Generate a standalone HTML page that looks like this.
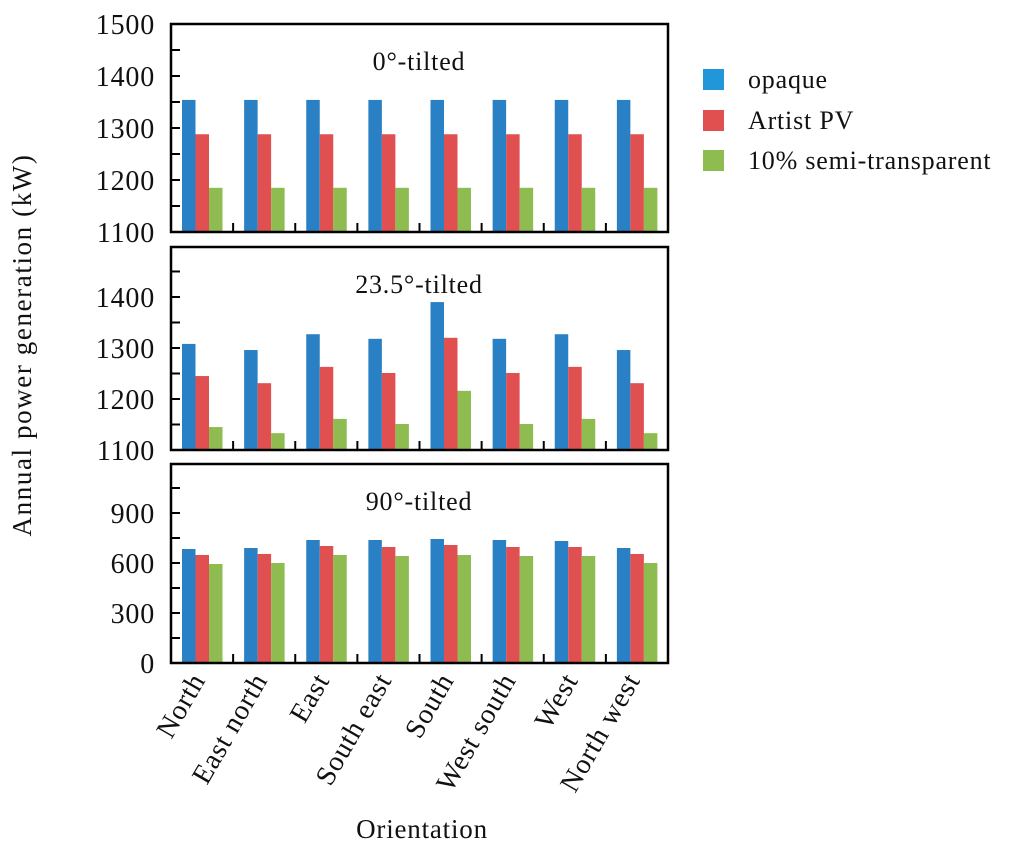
<!DOCTYPE html>
<html><head><meta charset="utf-8"><style>
body{margin:0;background:#fff}
svg text{font-family:"Liberation Serif",serif;fill:#111;letter-spacing:0.8px}
</style></head><body>
<svg id="chart" width="1024" height="850" viewBox="0 0 1024 850" xmlns="http://www.w3.org/2000/svg">
<text x="0" y="0" font-size="27" text-anchor="middle" style="letter-spacing:1.6px" transform="translate(31,345) rotate(-90)">Annual power generation (kW)</text>
<text x="422" y="838" font-size="27" text-anchor="middle">Orientation</text>
<g>
<rect x="703" y="69" width="21" height="21" fill="#2196d8"/>
<text x="748" y="88" font-size="26">opaque</text>
<rect x="703" y="110" width="21" height="21" fill="#e05050"/>
<text x="748" y="129" font-size="26">Artist PV</text>
<rect x="703" y="150" width="21" height="21" fill="#8fbc50"/>
<text x="748" y="169" font-size="26">10% semi-transparent</text>
</g>
</svg>
<script>
const categories = ["North","East north","East","South east","South","West south","West","North west"];
const panelTitles = ["0°-tilted","23.5°-tilted","90°-tilted"];
const opaque0 = [1354,1354,1354,1354,1354,1354,1354,1354];
const artist0 = [1288,1288,1288,1288,1288,1288,1288,1288];
const semi0 = [1185,1185,1185,1185,1185,1185,1185,1185];
const opaque23 = [1308,1296,1327,1318,1390,1318,1327,1296];
const artist23 = [1245,1231,1263,1251,1320,1251,1263,1231];
const semi23 = [1145,1133,1161,1151,1216,1151,1161,1133];
const opaque90 = [684,690,738,738,744,738,732,690];
const artist90 = [648,654,702,696,708,696,696,654];
const semi90 = [594,600,648,642,648,642,642,600];
const ticks0 = [1100,1200,1300,1400,1500];
const ticks23 = [1100,1200,1300,1400];
const ticks90 = [0,300,600,900];

const svg = document.getElementById('chart');
const NS = 'http://www.w3.org/2000/svg';
const X0 = 171, X1 = 668;
const colors = ['#2a80c4','#e05050','#8fbc50'];
const seriesNames = ['opaque','artist-pv','semi-transparent'];
const panels = [
  {top:24,bottom:232,min:1100,max:1500,minor:50,series:[opaque0,artist0,semi0],ticks:ticks0},
  {top:247,bottom:450,min:1100,max:1498,minor:50,series:[opaque23,artist23,semi23],ticks:ticks23},
  {top:464,bottom:663,min:0,max:1194,minor:150,series:[opaque90,artist90,semi90],ticks:ticks90}
];
function mk(tag, attrs){const e=document.createElementNS(NS,tag);for(const k in attrs)e.setAttribute(k,attrs[k]);svg.appendChild(e);return e;}
const gw = (X1-X0)/categories.length;
const xBand = i => X0 + i*gw;
panels.forEach((p,pi)=>{
  const y = v => p.bottom - (v-p.min)/(p.max-p.min)*(p.bottom-p.top);
  p.series.forEach((s,si)=>{
    s.forEach((v,i)=>{
      const r = mk('rect',{x:xBand(i)+11+si*13.5,y:y(v),width:13.5,height:p.bottom-y(v),fill:colors[si]});
      
      
    });
  });
  const f = mk('rect',{x:X0,y:p.top,width:X1-X0,height:p.bottom-p.top,fill:'none',stroke:'#000','stroke-width':2.5});
  
  
  for(let v=p.min; v<p.max; v+=p.minor){
    if(v===p.min) continue;
    const t = mk('line',{x1:X0,x2:X0+9,y1:y(v),y2:y(v),stroke:'#000','stroke-width':2});
    
    
  }
  for(let i=1;i<categories.length;i++){
    const t = mk('line',{x1:xBand(i),x2:xBand(i),y1:p.bottom,y2:p.bottom-9,stroke:'#000','stroke-width':2});
    
    
  }
  p.ticks.forEach(v=>{
    const t = mk('text',{x:155,y:y(v)+10,'font-size':28,'text-anchor':'end'});
    t.textContent = v;
    
    
  });
  const tt = mk('text',{x:419,y:p.top+46,'font-size':26,'text-anchor':'middle'});
  tt.textContent = panelTitles[pi];
  
  
});
categories.forEach((c,i)=>{
  const cx = xBand(i)+gw/2+4, cy = 680;
  const t = mk('text',{x:0,y:0,'font-size':28,'text-anchor':'end',transform:`translate(${cx},${cy}) rotate(-60)`});
  t.textContent = c;
  
  
});
</script>
</body></html>
